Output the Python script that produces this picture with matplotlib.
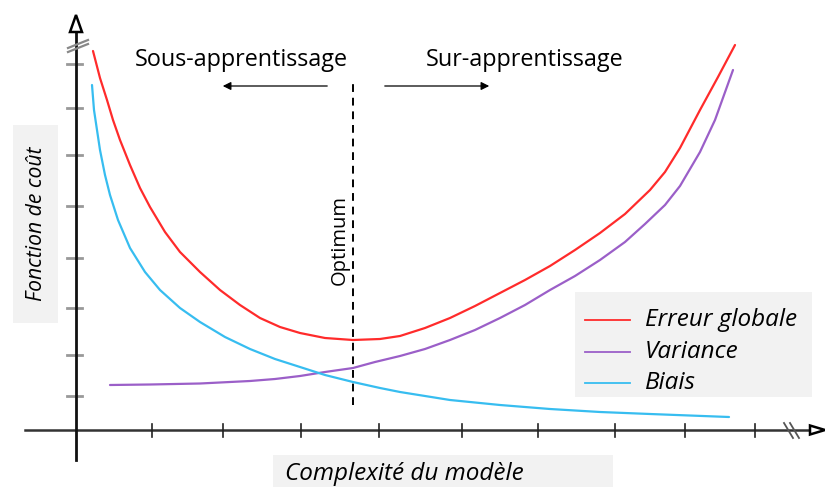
import matplotlib
matplotlib.use("Agg")
import matplotlib.pyplot as plt
from matplotlib.patches import Polygon, Rectangle

# ---- data (x: model complexity, y: cost), origin at axes crossing ----
erreur_x = [17, 24, 31, 37, 44, 54, 64, 74, 89, 104, 124, 144, 164, 184, 204, 224, 249, 277,
            304, 324, 349, 374, 399, 424, 449, 474, 499, 524, 549, 574, 589, 604, 624, 642, 659]
erreur_y = [379, 352, 330, 310, 290, 265, 242, 223, 198, 178, 158, 140, 125, 112, 103, 97, 92, 90,
            91, 94, 102, 112, 124, 137, 150, 164, 180, 197, 216, 240, 258, 282, 320, 353, 385]

biais_x = [16, 18, 21, 24, 29, 34, 42, 54, 69, 84, 104, 124, 149, 174, 199, 224, 249, 277,
           304, 324, 374, 424, 474, 524, 574, 653]
biais_y = [345, 320, 300, 280, 255, 235, 210, 182, 158, 140, 122, 108, 93, 81, 71, 63, 55, 48,
           42, 38, 30, 25, 21, 18, 16, 13]

variance_x = [34, 74, 124, 174, 199, 224, 249, 277, 299, 324, 349, 374, 399, 424, 449, 474,
              499, 524, 549, 569, 589, 604, 624, 639, 657]
variance_y = [45, 45.5, 46.5, 49, 51, 54, 58, 62, 68, 74, 81, 90, 100, 112, 125, 140,
              154, 170, 188, 206, 225, 244, 278, 310, 360]

x_ticks = [76, 147, 225, 303, 386, 462, 539, 609, 679]
y_ticks = [366, 322, 275, 224, 172, 122, 75, 34]
optimum_x = 277

series_labels = ["Erreur globale", "Variance", "Biais"]
series_colors = ["#ff2b2b", "#9b5fc8", "#37bdf0"]

W, H = 825, 487
fig = plt.figure(figsize=(W / 100, H / 100), dpi=100)
ax = fig.add_axes([0, 0, 1, 1])
ax.set_xlim(-76, W - 76)
ax.set_ylim(430 - H, 430)
ax.axis("off")

FONT = "Open Sans"

# axes lines
ax.plot([-51, 736], [0, 0], color="#333333", lw=1.8, zorder=3)
ax.plot([0, 0], [-30, 399], color="#111111", lw=2.0, zorder=3)
# arrow heads (open)
ax.add_patch(Polygon([[0, 415], [-6, 398], [6, 398]], closed=True, fc="white", ec="black", lw=1.8, zorder=4))
ax.add_patch(Polygon([[749, 0], [734, 4.5], [734, -4.5]], closed=True, fc="white", ec="black", lw=1.8, zorder=4))
# break marks
ax.plot([-8, 12], [378, 386], color="#888888", lw=1.6, zorder=4)
ax.plot([-8, 12], [382, 390], color="#888888", lw=1.6, zorder=4)
ax.plot([708, 717], [7, -8], color="#555555", lw=1.3, zorder=4)
ax.plot([714, 723], [7, -8], color="#555555", lw=1.3, zorder=4)

# ticks
for xt in x_ticks:
    ax.plot([xt, xt], [-7, 6], color="#222222", lw=1.2, zorder=3)
for yt in y_ticks:
    ax.plot([-9, 6], [yt, yt], color="#999999", lw=2.0, zorder=2)

# curves
kw = dict(lw=1.6, zorder=5, solid_joinstyle="round", solid_capstyle="round")
ax.plot(erreur_x, erreur_y, color=series_colors[0], **kw)
ax.plot(variance_x, variance_y, color=series_colors[1], **kw)
ax.plot(biais_x, biais_y, color=series_colors[2], **kw)

# optimum
ax.plot([optimum_x, optimum_x], [25, 350], color="black", lw=1.4, ls=(0, (4, 3)), zorder=4)
ax.text(optimum_x - 13, 190, "Optimum", rotation=90, ha="center", va="center",
        fontsize=14.5, family=FONT, color="black")

# regime texts and arrows
ax.text(165, 370, "Sous-apprentissage", ha="center", va="center", fontsize=16.8, family=FONT)
ax.text(449, 370, "Sur-apprentissage", ha="center", va="center", fontsize=16.8, family=FONT)
ax.annotate("", xy=(144, 344), xytext=(254, 344),
            arrowprops=dict(arrowstyle="-|>", color="black", lw=0.9, mutation_scale=12))
ax.annotate("", xy=(416, 344), xytext=(306, 344),
            arrowprops=dict(arrowstyle="-|>", color="black", lw=0.9, mutation_scale=12))

# axis labels with grey boxes
ax.add_patch(Rectangle((-63, 107), 45, 198, fc="#f2f2f2", ec="none", zorder=1))
ax.text(-39, 206, "Fonction de coût", rotation=90, ha="center", va="center",
        fontsize=15.2, family=FONT, style="italic", zorder=2)
ax.add_patch(Rectangle((197, -60), 340, 35, fc="#f2f2f2", ec="none", zorder=1))
ax.text(209, -44, "Complexité du modèle", ha="left", va="center",
        fontsize=17.5, family=FONT, style="italic", zorder=2)

# legend (box, handle lines, labels)
ax.add_patch(Rectangle((499, 33), 237, 105, fc="#f2f2f2", ec="none", zorder=1))
legend_rows = [110, 78, 47]
for lab, col, ry in zip(series_labels, series_colors, legend_rows):
    ax.plot([509, 554], [ry, ry], color=col, lw=1.3, zorder=2)
    ax.text(569, ry, lab, ha="left", va="center", fontsize=17.5, family=FONT,
            style="italic", zorder=2)

fig.savefig("out.png", dpi=100)
